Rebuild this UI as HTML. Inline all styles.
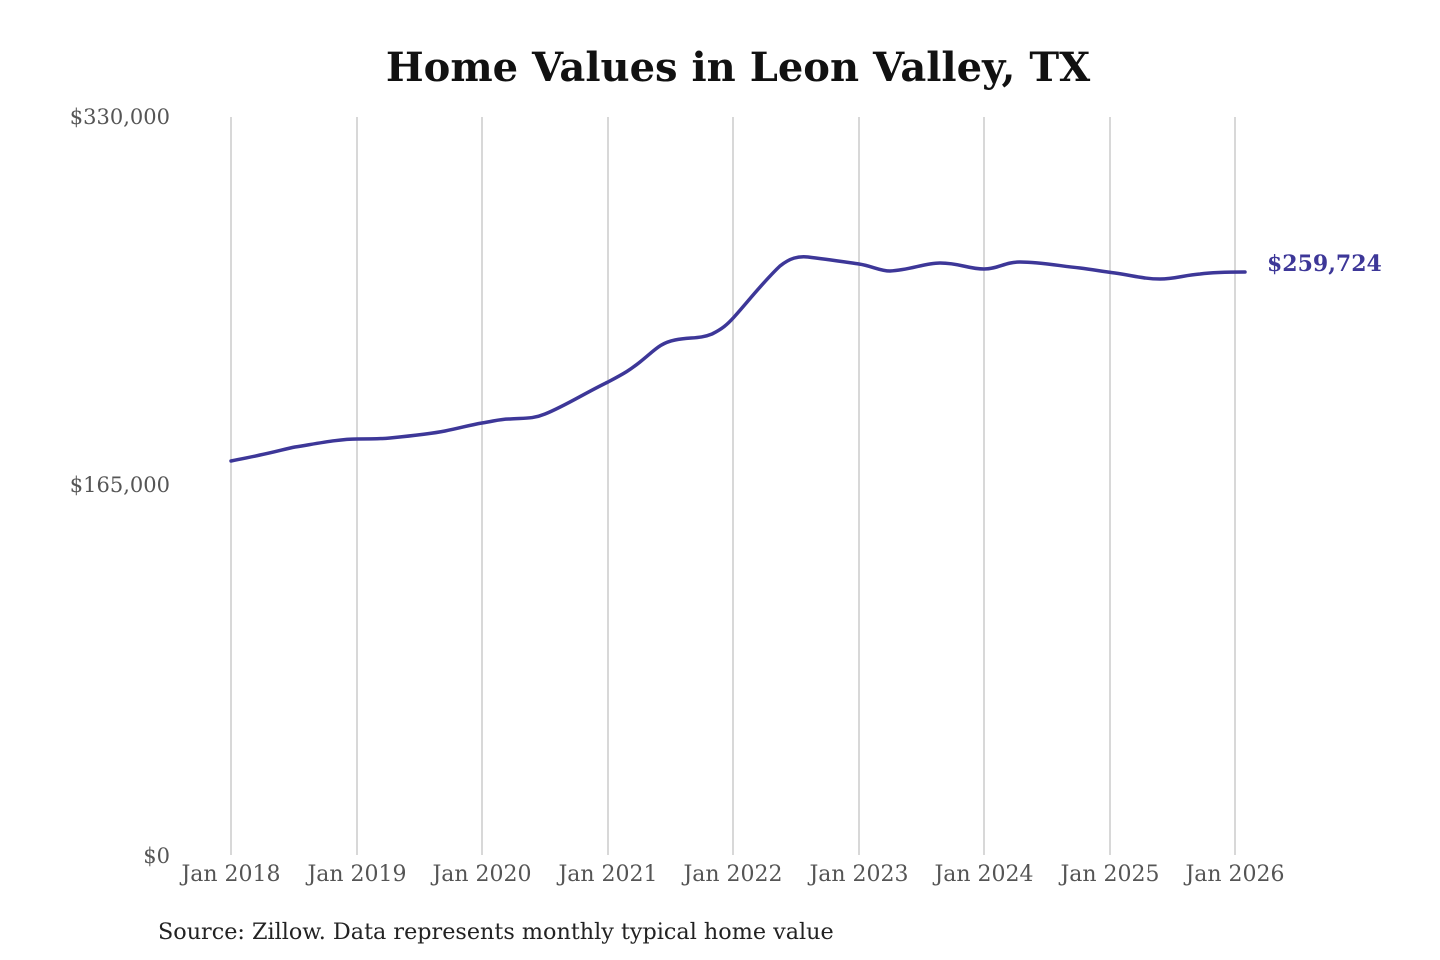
<!DOCTYPE html>
<html><head><meta charset="utf-8"><style>
html,body{margin:0;padding:0;background:#fff;width:1440px;height:960px;overflow:hidden}
</style></head><body>
<svg width="1440" height="960" xmlns="http://www.w3.org/2000/svg" font-family="'DejaVu Serif','Liberation Serif',serif">
<text x="738" y="81" text-anchor="middle" font-size="40" font-weight="bold" fill="#111">Home Values in Leon Valley, TX</text>
<g stroke="#bdbdbd" stroke-width="1.2">
<line x1="231" y1="117" x2="231" y2="855"/>
<line x1="357" y1="117" x2="357" y2="855"/>
<line x1="482" y1="117" x2="482" y2="855"/>
<line x1="608" y1="117" x2="608" y2="855"/>
<line x1="733" y1="117" x2="733" y2="855"/>
<line x1="859" y1="117" x2="859" y2="855"/>
<line x1="984" y1="117" x2="984" y2="855"/>
<line x1="1110" y1="117" x2="1110" y2="855"/>
<line x1="1235" y1="117" x2="1235" y2="855"/>
</g>
<g font-size="21" fill="#555" text-anchor="end">
<text x="170" y="124">$330,000</text>
<text x="170" y="492">$165,000</text>
<text x="170" y="863">$0</text>
</g>
<g font-size="22" fill="#555" text-anchor="middle">
<text x="231" y="881">Jan 2018</text>
<text x="357" y="881">Jan 2019</text>
<text x="482" y="881">Jan 2020</text>
<text x="608" y="881">Jan 2021</text>
<text x="733" y="881">Jan 2022</text>
<text x="859" y="881">Jan 2023</text>
<text x="984" y="881">Jan 2024</text>
<text x="1110" y="881">Jan 2025</text>
<text x="1235" y="881">Jan 2026</text>
</g>
<path d="M231,461 C245,458 252,457 260,455 C275,452 285,449 295,447 C320,443 340,439 357,439 C370,439 380,439 390,438 C410,436 430,434 445,431 C460,428 470,425 482,423 C495,421 500,419 510,419 C525,418 533,419 545,414 C565,406 585,393 608,382 C625,373 630,370 640,362 C655,350 660,343 675,340 C690,337 700,339 712,334 C722,329 727,325 735,316 C750,299 765,280 780,266 C790,258 798,256 808,257 C825,259 845,262 859,264 C872,266 880,271 890,271 C910,270 925,263 940,263 C960,263 968,269 984,269 C998,269 1005,262 1020,262 C1040,262 1060,266 1080,268 C1095,270 1100,271 1115,273 C1135,276 1145,279 1160,279 C1175,279 1185,275 1200,274 C1215,272 1230,272 1245,272" fill="none" stroke="#3d3798" stroke-width="3.5" stroke-linecap="round"/>
<text x="1267" y="271" font-size="22" font-weight="bold" fill="#3d3798">$259,724</text>
<text x="158" y="939" font-size="22.3" fill="#222">Source: Zillow. Data represents monthly typical home value</text>
</svg>
</body></html>
